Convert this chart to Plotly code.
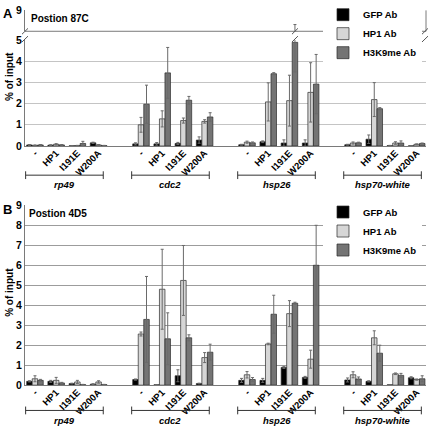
import plotly.graph_objects as go

genes = ["rp49", "cdc2", "hsp26", "hsp70-white"]
conditions = ["-", "HP1", "I191E", "W200A"]
antibodies = ["GFP Ab", "HP1 Ab", "H3K9me Ab"]

# Panel A (Postion 87C)
A_gfp = [0.05, 0.04, 0.01, 0.15, 0.10, 0.10, 0.12, 0.28, 0.06, 0.20, 0.14, 0.14, 0.06, 0.32, 0.02, 0.01]
A_gfp_err = [0.02, 0.02, 0.01, 0.03, 0.05, 0.06, 0.05, 0.15, 0.02, 0.04, 0.15, 0.15, 0.02, 0.20, 0.01, 0.01]
A_hp1 = [0.03, 0.08, 0.02, 0.05, 1.00, 1.28, 1.20, 1.16, 0.18, 2.08, 2.14, 2.53, 0.14, 2.19, 0.14, 0.08]
A_hp1_err = [0.02, 0.03, 0.01, 0.02, 0.35, 0.38, 0.12, 0.08, 0.05, 0.90, 1.20, 1.40, 0.05, 0.80, 0.06, 0.02]
A_h3 = [0.05, 0.05, 0.12, 0.02, 1.97, 3.45, 2.16, 1.37, 0.15, 3.41, 4.89, 2.92, 0.15, 1.76, 0.14, 0.12]
A_h3_err = [0.02, 0.02, 0.10, 0.01, 0.90, 1.20, 0.18, 0.20, 0.04, 0.05, 1.40, 1.40, 0.03, 0.05, 0.10, 0.02]

# Panel B (Postion 4D5)
B_gfp = [0.19, 0.19, 0.08, 0.05, 0.28, 0.02, 0.47, 0.08, 0.24, 0.24, 0.89, 0.39, 0.26, 0.19, 0.02, 0.37]
B_gfp_err = [0.03, 0.05, 0.02, 0.02, 0.03, 0.01, 0.30, 0.02, 0.10, 0.10, 0.05, 0.05, 0.10, 0.03, 0.01, 0.05]
B_hp1 = [0.32, 0.24, 0.16, 0.16, 2.56, 4.80, 5.24, 1.38, 0.52, 2.06, 3.58, 1.30, 0.52, 2.37, 0.57, 0.28]
B_hp1_err = [0.15, 0.15, 0.08, 0.06, 0.10, 2.00, 1.75, 0.25, 0.16, 0.04, 0.65, 0.45, 0.15, 0.35, 0.04, 0.03]
B_h3 = [0.24, 0.11, 0.03, 0.03, 3.29, 2.32, 2.37, 1.65, 0.28, 3.55, 4.10, 6.00, 0.31, 1.60, 0.49, 0.32]
B_h3_err = [0.05, 0.03, 0.01, 0.01, 2.15, 1.30, 0.15, 0.40, 0.10, 0.95, 0.05, 2.00, 0.10, 0.40, 0.10, 0.15]

colors = ["#000000", "#d6d6d6", "#747474"]
W, H = 430, 432
FONT = "Liberation Sans, Arial, sans-serif"


def px(x):
    return x / W


def py(y):
    return 1 - y / H


# slot layout: each gene has 4 condition slots + 1 empty slot
xs = [g * 5 + c for g in range(len(genes)) for c in range(len(conditions))]
ticktext = [c for g in genes for c in conditions]
bw = 0.26
offsets = [-1.5 * bw, -0.5 * bw, 0.5 * bw]

fig = go.Figure()


def add_panel(vals, errs, xa, ya, legend, showlegend=True):
    for i, (v, e) in enumerate(zip(vals, errs)):
        fig.add_trace(go.Bar(
            x=xs, y=v, name=antibodies[i], xaxis=xa, yaxis=ya,
            width=bw, offset=offsets[i],
            marker=dict(color=colors[i], line=dict(color="#2a2a2a", width=0.7)),
            error_y=dict(type="data", array=e, visible=True, color="#6a6a6a",
                         thickness=1, width=1.5),
            legend=legend, showlegend=showlegend,
        ))


add_panel([A_gfp, A_hp1, A_h3], [A_gfp_err, A_hp1_err, A_h3_err], "x", "y", "legend")
# upper (broken) segment of panel A shows the same data above 5
add_panel([A_gfp, A_hp1, A_h3], [A_gfp_err, A_hp1_err, A_h3_err], "x", "y3", "legend", showlegend=False)
add_panel([B_gfp, B_hp1, B_h3], [B_gfp_err, B_hp1_err, B_h3_err], "x2", "y2", "legend2")

xrange = [-0.47, 18.44]
xdom = [px(25), px(426)]
tickfont = dict(family=FONT, size=10.5, color="#000", weight="bold")
xt = dict(range=xrange, domain=xdom, tickmode="array", tickvals=xs, ticktext=ticktext,
          tickangle=-45, tickfont=dict(family=FONT, size=9.5, color="#000", weight="bold"),
          ticklabelstandoff=-3,
          showgrid=False, showline=True, linecolor="#7a7a7a", linewidth=1, ticks="",
          zeroline=False)

A_top_lower = 35
legfont = dict(family=FONT, size=9.5, color="#000", weight="bold")
fig.update_layout(
    width=W, height=H, margin=dict(l=0, r=0, t=0, b=0),
    paper_bgcolor="white", plot_bgcolor="white",
    barmode="overlay",
    font=dict(family=FONT, color="#000"),
    xaxis=dict(xt, anchor="y"),
    xaxis2=dict(xt, anchor="y2"),
    yaxis=dict(domain=[py(144), py(A_top_lower)], range=[0, 5], dtick=1,
               showgrid=True, gridcolor="#c4c4c4", gridwidth=1, zeroline=False,
               showline=True, linecolor="#7a7a7a", ticks="", tickfont=tickfont, anchor="x"),
    yaxis3=dict(domain=[py(26), py(4.5)], range=[5, 9], tickmode="array", tickvals=[9],
                showgrid=True, gridcolor="#7a7a7a", zeroline=False,
                showline=True, linecolor="#7a7a7a", ticks="", tickfont=tickfont, anchor="x"),
    yaxis2=dict(domain=[py(390), py(205)], range=[0, 9], dtick=1,
                showgrid=True, gridcolor="#9c9c9c", gridwidth=1, zeroline=False,
                showline=True, linecolor="#7a7a7a", ticks="", tickfont=tickfont, anchor="x2"),
    legend=dict(x=px(323), y=py(-6), xanchor="left", yanchor="top",
                bgcolor="white", borderwidth=0, font=legfont,
                itemwidth=30, tracegroupgap=0),
    legend2=dict(x=px(323), y=py(197), xanchor="left", yanchor="top",
                 bgcolor="white", borderwidth=0, font=legfont,
                 itemwidth=30, tracegroupgap=0),
    showlegend=True,
)

shapes = []
line_c = dict(color="#7a7a7a", width=1)
# upper segment bottom edge and right edge
shapes.append(dict(type="line", xref="paper", yref="paper", x0=px(25), x1=px(426),
                   y0=py(26), y1=py(26), line=line_c))
shapes.append(dict(type="line", xref="paper", yref="paper", x0=px(426), x1=px(426),
                   y0=py(26), y1=py(4.5), line=line_c))
# break marks
brk_bar = xs[A_h3.index(max(A_h3))] + offsets[2] + bw / 2
for yy in (26, 34):
    for xpx in (25, 425):
        shapes.append(dict(type="line", xref="paper", yref="paper",
                           x0=px(xpx - 3), x1=px(xpx + 3), y0=py(yy + 3), y1=py(yy - 3),
                           line=dict(color="#555", width=1)))
    shapes.append(dict(type="line", xref="x", yref="paper",
                       x0=brk_bar - 0.14, x1=brk_bar + 0.14, y0=py(yy + 3), y1=py(yy - 3),
                       line=dict(color="#555", width=1)))

annotations = []
# gene brackets
for g, gene in enumerate(genes):
    x0 = g * 5 - 0.44
    x1 = g * 5 + 3.22
    for xr, yb, yl in (("x", 174, 184), ("x2", 416, 426)):
        shapes.append(dict(type="line", xref=xr, yref="paper", x0=x0, x1=x1,
                           y0=py(yb), y1=py(yb), line=dict(color="#333", width=1)))
        for xe in (x0, x1):
            shapes.append(dict(type="line", xref=xr, yref="paper", x0=xe, x1=xe,
                               y0=py(yb - 4), y1=py(yb + 4), line=dict(color="#333", width=1)))
        annotations.append(dict(xref=xr, yref="paper", x=(x0 + x1) / 2, y=py(yl),
                                text=gene, showarrow=False, xanchor="center", yanchor="middle",
                                font=dict(family=FONT, size=9.5, color="#000",
                                          weight="bold", style="italic")))

# panel letters, titles, y-axis titles
annotations += [
    dict(xref="paper", yref="paper", x=px(1), y=py(8), text="A", showarrow=False,
         xanchor="left", yanchor="middle", font=dict(family=FONT, size=13, weight="bold")),
    dict(xref="paper", yref="paper", x=px(1), y=py(209), text="B", showarrow=False,
         xanchor="left", yanchor="middle", font=dict(family=FONT, size=13, weight="bold")),
    dict(xref="paper", yref="paper", x=px(29), y=py(13), text="Postion 87C", showarrow=False,
         xanchor="left", yanchor="middle", font=dict(family=FONT, size=10, weight="bold")),
    dict(xref="paper", yref="paper", x=px(27), y=py(213), text="Postion 4D5", showarrow=False,
         xanchor="left", yanchor="middle", font=dict(family=FONT, size=10, weight="bold")),
    dict(xref="paper", yref="paper", x=px(10), y=py(73), text="% of input", showarrow=False,
         textangle=-90, xanchor="center", yanchor="middle",
         font=dict(family=FONT, size=10, weight="bold")),
    dict(xref="paper", yref="paper", x=px(10), y=py(295), text="% of input", showarrow=False,
         textangle=-90, xanchor="center", yanchor="middle",
         font=dict(family=FONT, size=10, weight="bold")),
]

fig.update_layout(shapes=shapes, annotations=annotations)
fig.write_html("out.html", config={"displayModeBar": False},
               post_script="document.body.style.margin='0';document.body.style.overflow='hidden';")
